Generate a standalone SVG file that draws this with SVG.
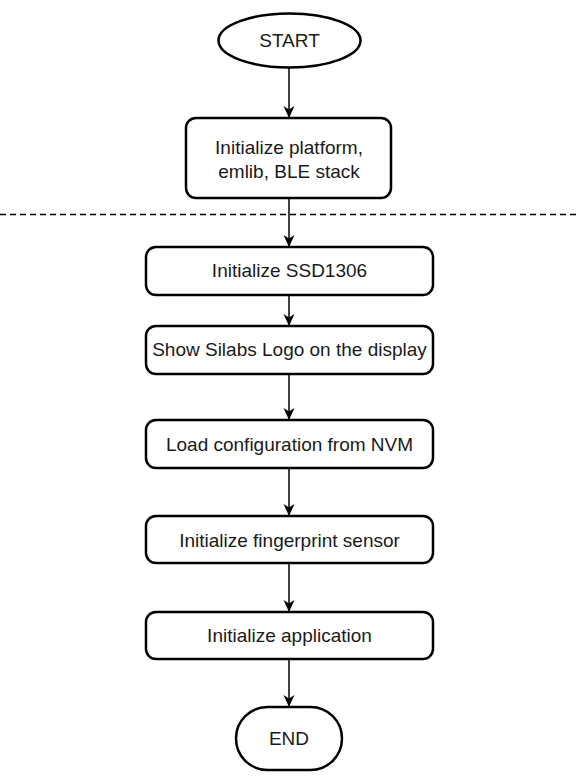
<svg xmlns="http://www.w3.org/2000/svg" width="578" height="784" viewBox="0 0 578 784">
<style>
.n{fill:#fff;stroke:#000;stroke-width:2.5}
.t{font-family:"Liberation Sans",Arial,sans-serif;font-size:19px;fill:#1a1a1a;text-anchor:middle;dominant-baseline:central}
.c{stroke:#000;stroke-width:1.5;fill:none;marker-end:url(#ah)}
</style>
<defs>
<marker id="ah" markerWidth="12" markerHeight="12" refX="11" refY="6" orient="auto" markerUnits="userSpaceOnUse" viewBox="0 0 12 12">
<path d="M0,0.5 L12,6 L0,11.5 L3.5,6 Z" fill="#000"/>
</marker>
</defs>
<rect width="578" height="784" fill="#fff"/>
<line x1="0" y1="214.5" x2="578" y2="214.5" stroke="#000" stroke-width="1.5" stroke-dasharray="6,4"/>
<g id="connectors">
<line class="c" x1="289" y1="68" x2="289" y2="117"/>
<line class="c" x1="289" y1="198" x2="289" y2="246"/>
<line class="c" x1="289" y1="295" x2="289" y2="325"/>
<line class="c" x1="289" y1="374" x2="289" y2="419"/>
<line class="c" x1="289" y1="468" x2="289" y2="515"/>
<line class="c" x1="289" y1="563" x2="289" y2="611"/>
<line class="c" x1="289" y1="659" x2="289" y2="706"/>
</g>
<g id="start">
<ellipse class="n" cx="289.5" cy="40.5" rx="71" ry="27"/>
<text class="t" x="289.5" y="40">START</text>
</g>
<g id="init-platform">
<rect class="n" x="186" y="118" width="205" height="80" rx="10"/>
<text class="t" x="289" y="147">Initialize platform,</text>
<text class="t" x="289" y="171">emlib, BLE stack</text>
</g>
<g id="init-ssd">
<rect class="n" x="146" y="247" width="287" height="48" rx="10"/>
<text class="t" x="289.5" y="270">Initialize SSD1306</text>
</g>
<g id="show-logo">
<rect class="n" x="146" y="326" width="287" height="48" rx="10"/>
<text class="t" x="289.5" y="349">Show Silabs Logo on the display</text>
</g>
<g id="load-config">
<rect class="n" x="146" y="420" width="287" height="48" rx="10"/>
<text class="t" x="289.5" y="444">Load configuration from NVM</text>
</g>
<g id="init-fp">
<rect class="n" x="146" y="516" width="287" height="47" rx="10"/>
<text class="t" x="289.5" y="540">Initialize fingerprint sensor</text>
</g>
<g id="init-app">
<rect class="n" x="146" y="612" width="287" height="47" rx="10"/>
<text class="t" x="289.5" y="635">Initialize application</text>
</g>
<g id="end">
<rect class="n" x="236" y="707" width="106" height="63" rx="31.5"/>
<text class="t" x="289" y="738">END</text>
</g>
</svg>
